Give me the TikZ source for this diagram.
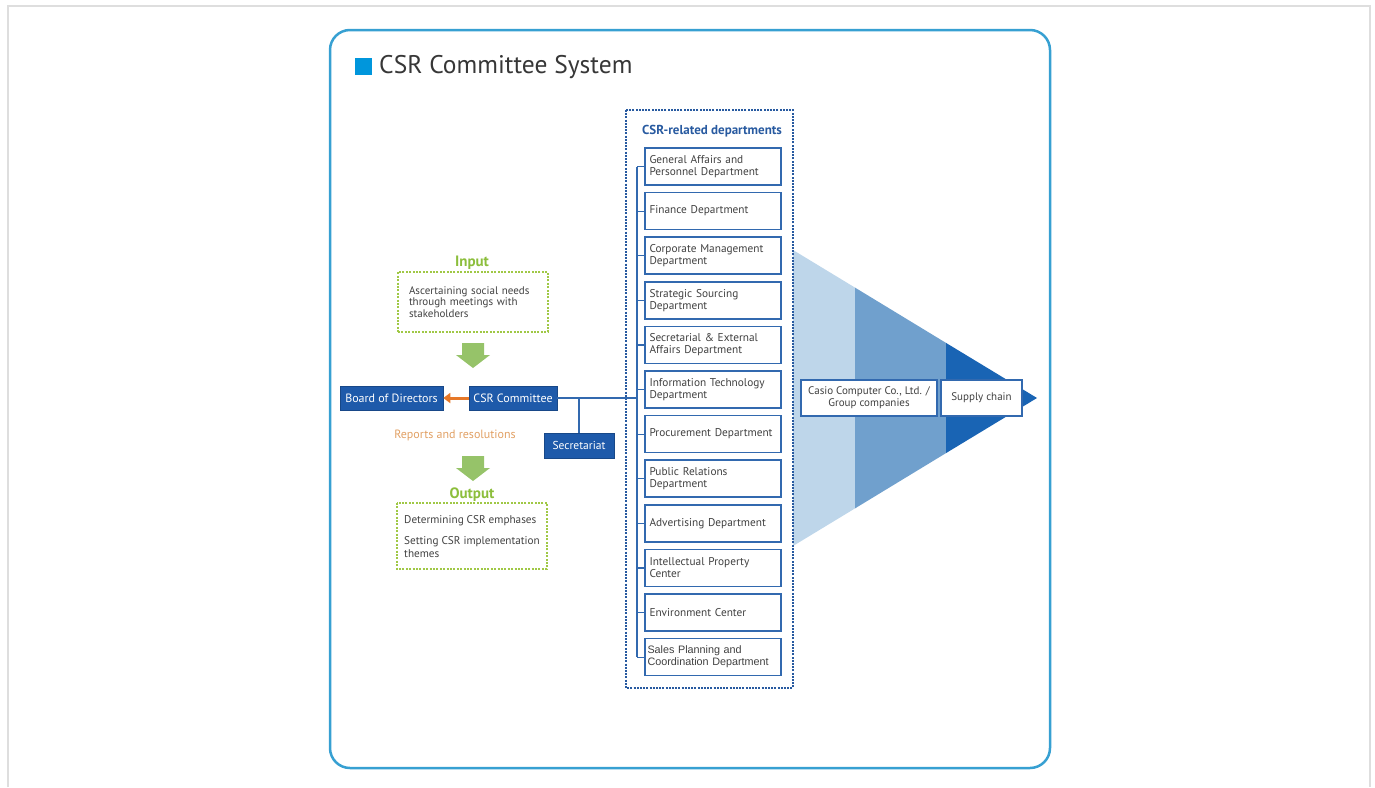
\documentclass[tikz,border=0pt]{standalone}
\usepackage{fontspec}
\setmainfont{PT Sans}
\newfontfamily\gothicfont{Liberation Sans}
\usetikzlibrary{calc,arrows.meta}
\definecolor{frameblue}{RGB}{55,160,210}
\definecolor{titlesq}{RGB}{0,150,220}
\definecolor{titletext}{RGB}{55,55,55}
\definecolor{deptblue}{RGB}{50,105,175}
\definecolor{darkblue}{RGB}{30,90,170}
\definecolor{dotblue}{RGB}{40,90,160}
\definecolor{dotgreen}{RGB}{160,200,70}
\definecolor{labgreen}{RGB}{140,190,60}
\definecolor{arrgreen}{RGB}{150,195,105}
\definecolor{orng}{RGB}{230,120,40}
\definecolor{lorng}{RGB}{225,160,100}
\definecolor{bandA}{RGB}{190,214,234}
\definecolor{bandB}{RGB}{112,160,205}
\definecolor{bandC}{RGB}{25,100,180}
\definecolor{greyline}{RGB}{222,222,222}
\definecolor{txt}{RGB}{65,65,65}
\tikzset{
  x=1pt, y=-1pt,
  dept/.style={draw=deptblue, line width=1.6pt, fill=white, minimum width=136pt, minimum height=37pt, text width=127pt, align=left, font=\fontsize{11.3}{12.2}\selectfont, text=txt, inner sep=0pt},
  solidbox/.style={fill=darkblue, draw=darkblue!80!black, line width=0.6pt, text=white, font=\fontsize{12}{13}\selectfont, minimum height=24pt, inner sep=2pt},
  greendot/.style={draw=dotgreen, line width=2pt, dash pattern=on 2pt off 1.4pt},
  bluedot/.style={draw=dotblue, line width=2pt, dash pattern=on 2pt off 1.2pt},
  wbox/.style={draw=deptblue, line width=1.4pt, fill=white, minimum height=36pt, align=center, font=\fontsize{11}{12}\selectfont, text=txt, inner sep=0pt},
  conn/.style={draw=deptblue, line width=1.2pt},
  blockarrow/.style={fill=arrgreen}
}
\begin{document}
\begin{tikzpicture}
\useasboundingbox (0,0) rectangle (1375,787);
% outer grey frame
\draw[greyline, line width=1.5pt] (8,787) -- (8,6) -- (1370,6) -- (1370,787);
% rounded blue frame
\draw[frameblue, line width=2.5pt, rounded corners=20pt] (330,30) rectangle (1050,768);
% title
\fill[titlesq] (355,58) rectangle (372,75);
\node[anchor=west, text=titletext, font=\fontsize{25.5}{27}\selectfont, inner sep=0pt] (title) at (379,67) {CSR Committee System};

% triangle bands
\fill[bandA] (793,250) -- (855,287.6) -- (855,508.4) -- (793,546) -- cycle;
\fill[bandB] (855,287.6) -- (946,342.9) -- (946,453.1) -- (855,508.4) -- cycle;
\fill[bandC] (946,342.9) -- (1037,398) -- (946,453.1) -- cycle;

% CSR-related departments dotted box
\draw[bluedot] (626,110) rectangle (793,688);
\node[anchor=west, text=dotblue, font=\bfseries\fontsize{13}{14}\selectfont, inner sep=0pt] (deptlab) at (642,131) {CSR-related departments};

% department boxes
\foreach \i/\t [count=\n from 0] in {
 1/{General Affairs and\\Personnel Department},
 2/{Finance Department},
 3/{Corporate Management\\Department},
 4/{Strategic Sourcing\\Department},
 5/{Secretarial \& External\\Affairs Department},
 6/{Information Technology\\Department},
 7/{Procurement Department},
 8/{Public Relations\\Department},
 9/{Advertising Department},
 10/{Intellectual Property\\Center},
 11/{Environment Center}} {
  \node[dept] (d\i) at (713, 166.5+\n*44.6) {\t};
}
\node[dept, text width=131pt, font=\gothicfont\fontsize{10.8}{12}\selectfont] (d12) at (713, 657.1) {Sales Planning and\\Coordination Department};

% bus
\coordinate (busT) at (637,166.5);
\coordinate (busB) at (637,657.1);
\draw[conn] (busT) -- (busB);
\foreach \i in {1,...,12} { \draw[conn] (d\i.west) -- (d\i.west -| busT); }

% committee
\node[solidbox, minimum width=88pt] (csr) at (513,398) {CSR Committee};
\node[solidbox, minimum width=103pt] (board) at (391.5,398) {Board of Directors};
\node[solidbox, minimum width=70pt, minimum height=25pt, font=\fontsize{11.5}{12}\selectfont] (sec) at (579,445.5) {Secretariat};
\draw[conn] (csr.east) -- (csr.east -| busT);
\draw[conn] (sec.north) -- (sec.north |- csr.east);
\draw[orng, line width=3pt, -{Triangle[length=7pt,width=10pt]}] (csr.west) -- (board.east);

% input
\node[text=labgreen, font=\bfseries\fontsize{15}{16}\selectfont, inner sep=0pt] (inlab) at (472,263) {Input};
\node[greendot, minimum width=150pt, minimum height=60pt, text width=128pt, align=left, font=\fontsize{11}{11.8}\selectfont, text=txt, inner sep=0pt] (inbox) at (473,302) {Ascertaining social needs\\through meetings with\\stakeholders};
\fill[blockarrow] (462,343) -- (484,343) -- (484,355) -- (490,355) -- (473,368) -- (456,355) -- (462,355) -- cycle;

\node[text=lorng, font=\fontsize{12}{13}\selectfont, inner sep=0pt] (rep) at (455,435) {Reports and resolutions};
\fill[blockarrow] (462,456) -- (484,456) -- (484,468) -- (490,468) -- (473,481) -- (456,468) -- (462,468) -- cycle;

% output
\node[text=labgreen, font=\bfseries\fontsize{15}{16}\selectfont, inner sep=0pt] (outlab) at (472,495) {Output};
\draw[greendot] (397,503) rectangle (547,569);
\node[anchor=north west, text=txt, font=\fontsize{11.2}{12.5}\selectfont, inner sep=0pt, align=left] (out1) at (404,515) {Determining CSR emphases};
\node[anchor=north west, text=txt, font=\fontsize{11.2}{13}\selectfont, inner sep=0pt, align=left] (out2) at (404,536) {Setting CSR implementation\\themes};

% casio / supply chain
\node[wbox, minimum width=136pt] (casio) at (869,398) {Casio Computer Co., Ltd. /\\Group companies};
\node[wbox, minimum width=81pt] (supply) at (981.5,398) {Supply chain};
\end{tikzpicture}
\end{document}
